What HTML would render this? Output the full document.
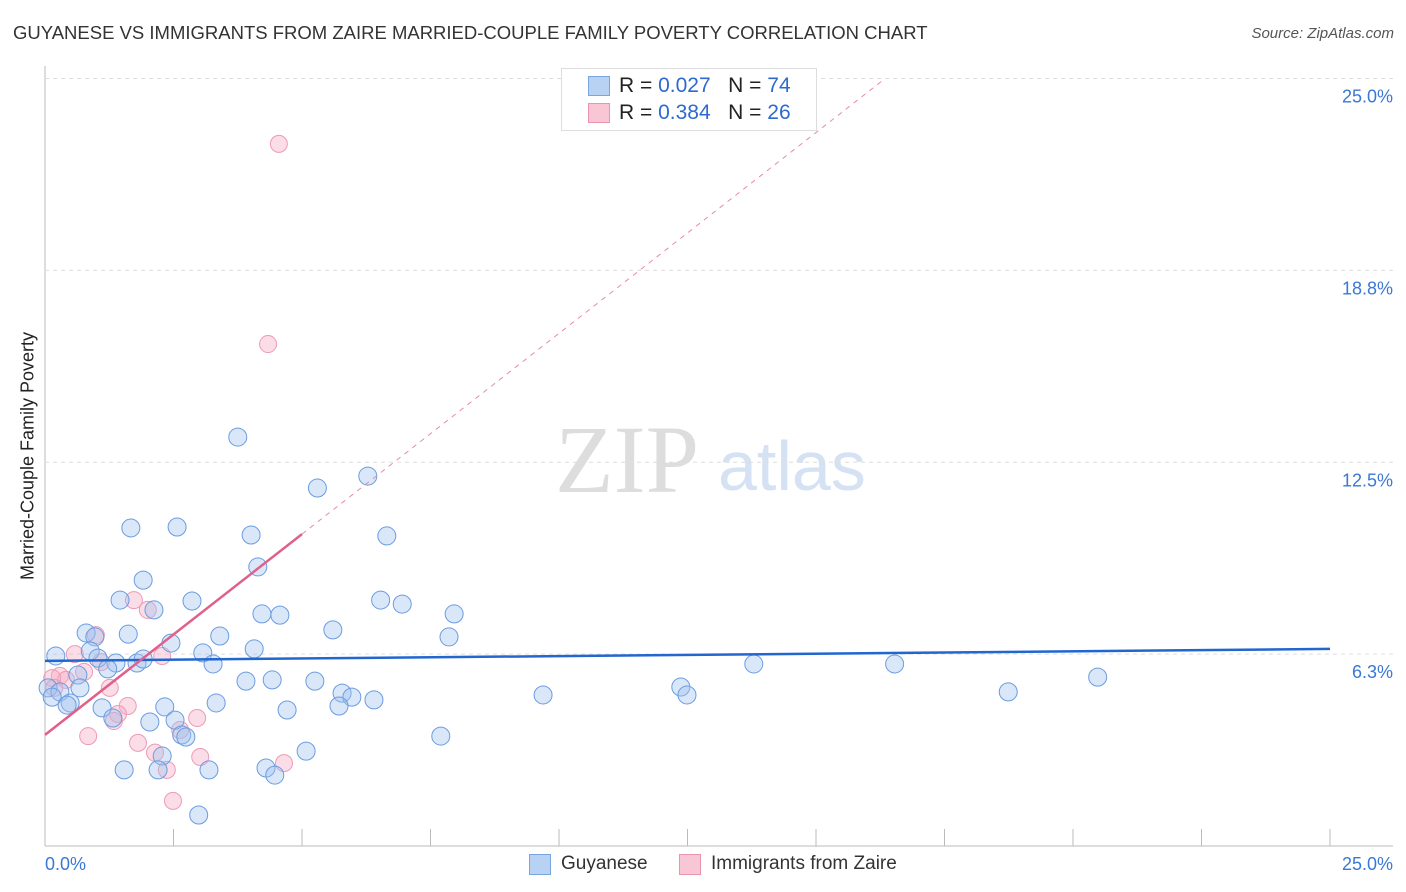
<!DOCTYPE html>
<html><head><meta charset="utf-8"><style>
body{margin:0;background:#fff;font-family:"Liberation Sans",sans-serif;}
#wrap{position:relative;width:1406px;height:892px;overflow:hidden;}
.t{position:absolute;white-space:nowrap;}
</style></head><body>
<div id="wrap">
<div class="t" style="left:13px;top:22px;font-size:18.5px;color:#333;">GUYANESE VS IMMIGRANTS FROM ZAIRE MARRIED-COUPLE FAMILY POVERTY CORRELATION CHART</div>
<div class="t" style="right:12px;top:25px;font-size:15px;color:#555;font-style:italic;">Source: ZipAtlas.com</div>
<div class="t" style="left:28px;top:456px;font-size:18px;color:#222;transform:translate(-50%,-50%) rotate(-90deg);">Married-Couple Family Poverty</div>
<svg id="svg" width="1406" height="892" style="position:absolute;left:0;top:0;">
<text x="555" y="492" font-family="Liberation Serif" font-size="96" fill="#ddd">ZIP</text>
<text x="718" y="490" font-family="Liberation Sans" font-size="70" fill="#d4e2f4">atlas</text>
</svg>
<div style="position:absolute;left:561px;top:68px;width:254px;height:61px;border:1px solid #ddd;background:#fff;font-size:21px;">
 <div style="position:absolute;left:26px;top:7px;width:20px;height:18px;background:#b8d2f3;border:1px solid #7aa6e0;"></div>
 <div class="t" style="left:57px;top:5px;color:#222;">R = <span style="color:#2d6ad0">0.027</span>&nbsp;&nbsp;&nbsp;N = <span style="color:#2d6ad0">74</span></div>
 <div style="position:absolute;left:26px;top:34px;width:20px;height:18px;background:#f9c6d5;border:1px solid #eb94b0;"></div>
 <div class="t" style="left:57px;top:32px;color:#222;">R = <span style="color:#2d6ad0">0.384</span>&nbsp;&nbsp;&nbsp;N = <span style="color:#2d6ad0">26</span></div>
</div>
<div>
 <div style="position:absolute;left:529px;top:854px;width:20px;height:19px;background:#b8d2f3;border:1px solid #7aa6e0;"></div>
 <div class="t" style="left:561px;top:853px;font-size:19px;color:#333;">Guyanese</div>
 <div style="position:absolute;left:679px;top:854px;width:20px;height:19px;background:#f9c6d5;border:1px solid #eb94b0;"></div>
 <div class="t" style="left:711px;top:853px;font-size:19px;color:#333;">Immigrants from Zaire</div>
</div>
</div>
<script>
const yTicks=[6.25,12.5,18.75,25];
const yTickLabels=["6.3%","12.5%","18.8%","25.0%"];
const xTickLabels=["0.0%","25.0%"];
const blueX=[3.75,5.3,6.28,1.67,2.57,4.01,6.65,4.14,1.91,1.46,2.86,2.12,6.53,6.95,4.22,4.57,7.96,5.6,0.8,1.62,0.97,3.4,7.86,2.45,0.21,0.88,3.07,4.07,1.03,1.38,1.79,1.91,3.27,13.79,16.53,20.48,0.64,1.22,0.06,0.29,0.68,3.91,4.42,5.25,5.78,5.97,6.4,9.69,12.37,12.49,18.74,0.14,0.49,0.43,1.11,2.33,3.33,4.71,5.72,1.32,2.04,2.53,2.66,2.74,2.28,5.08,7.7,1.54,2.2,3.19,4.3,4.47,2.99];
const blueY=[13.32,11.66,12.05,10.36,10.39,10.13,10.1,9.09,8.66,8.01,7.98,7.69,8.01,7.88,7.56,7.52,7.56,7.04,6.94,6.9,6.81,6.84,6.81,6.61,6.19,6.35,6.29,6.42,6.12,5.96,5.96,6.09,5.93,5.93,5.93,5.5,5.57,5.77,5.15,5.02,5.15,5.37,5.41,5.37,4.98,4.85,4.76,4.92,5.18,4.92,5.02,4.85,4.66,4.59,4.5,4.53,4.66,4.43,4.56,4.17,4.04,4.1,3.62,3.55,2.93,3.09,3.58,2.48,2.48,2.48,2.54,2.31,1.01];
const pinkX=[4.55,4.34,1.73,2.0,0.99,0.58,2.28,1.09,0.76,0.29,0.41,0.14,0.18,1.26,1.61,1.42,1.34,2.96,2.63,0.84,1.81,2.14,3.02,2.37,4.65,2.49];
const pinkY=[22.87,16.35,8.01,7.69,6.87,6.25,6.19,5.99,5.67,5.54,5.41,5.47,5.15,5.15,4.56,4.3,4.07,4.17,3.78,3.58,3.36,3.04,2.9,2.48,2.7,1.47];
const blueTrend=[6.03,6.42];
const pinkTrend=[3.62,10.16];

const NS="http://www.w3.org/2000/svg";
const svg=document.getElementById('svg');
const X=v=>45+v*51.4;
const Y=v=>846-v*30.7;
function mk(tag,attrs){const e=document.createElementNS(NS,tag);for(const k in attrs)e.setAttribute(k,attrs[k]);svg.appendChild(e);return e;}
let a=mk('line',{x1:45,y1:66,x2:45,y2:846,stroke:'#bbb','stroke-width':1});


a=mk('line',{x1:45,y1:846,x2:1393,y2:846,stroke:'#bbb','stroke-width':1});


for(let i=0;i<=10;i++){const t=mk('line',{x1:X(i*2.5),y1:829,x2:X(i*2.5),y2:846,stroke:'#bbb'});

}
yTicks.forEach((v,i)=>{const g=mk('line',{x1:45,y1:Y(v),x2:1393,y2:Y(v),stroke:'#ddd','stroke-dasharray':'4,4'});


const t=mk('text',{x:1393,y:Y(v)+24,'text-anchor':'end','font-size':18,fill:'#3a78d6','font-family':'Liberation Sans'});t.textContent=yTickLabels[i];

});
[[45,'start'],[1393,'end']].forEach((p,i)=>{const t=mk('text',{x:p[0],y:870,'text-anchor':p[1],'font-size':18,fill:'#3a78d6','font-family':'Liberation Sans'});t.textContent=xTickLabels[i];

});
pinkX.forEach((x,i)=>{const c=mk('circle',{cx:X(x),cy:Y(pinkY[i]),r:8.5,fill:'rgba(246,170,195,0.4)',stroke:'#ee9ab6','stroke-width':1});

});
blueX.forEach((x,i)=>{const c=mk('circle',{cx:X(x),cy:Y(blueY[i]),r:9,fill:'rgba(160,196,240,0.4)',stroke:'#6b9ce0','stroke-width':1});

});
let l=mk('line',{x1:X(0),y1:Y(blueTrend[0]),x2:X(25),y2:Y(blueTrend[1]),stroke:'#2266d0','stroke-width':2.5});


const slope=(pinkTrend[1]-pinkTrend[0])/5;
const xEnd=(25-pinkTrend[0])/slope;
l=mk('line',{x1:X(5),y1:Y(pinkTrend[1]),x2:X(xEnd),y2:Y(25),stroke:'#e88aa8','stroke-width':1,'stroke-dasharray':'5,5'});


l=mk('line',{x1:X(0),y1:Y(pinkTrend[0]),x2:X(5),y2:Y(pinkTrend[1]),stroke:'#e0608a','stroke-width':2.5});


</script>
</body></html>
